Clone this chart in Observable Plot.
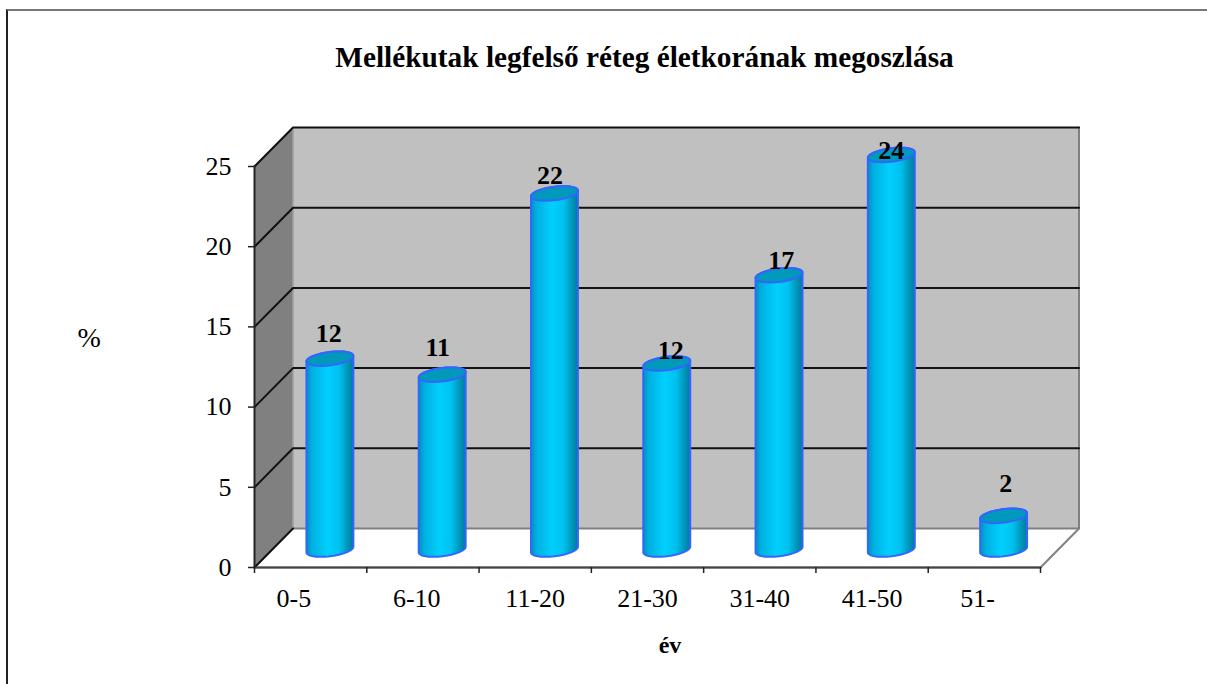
<!DOCTYPE html>
<html><head><meta charset="utf-8">
<script src="https://cdn.jsdelivr.net/npm/d3@7"></script>
<script src="https://cdn.jsdelivr.net/npm/@observablehq/plot@0.6"></script>
<style>
html,body{margin:0;padding:0;background:#fff;overflow:hidden}
#box{position:absolute;left:6px;top:9px;right:0;height:700px;border-top:2px solid #777;border-left:2px solid #222;pointer-events:none}
#chart{position:absolute;left:0;top:0}
svg{background:transparent!important;display:block}
</style></head><body><div id="chart"></div><div id="box"></div>
<script>
const categories = ["0-5","6-10","11-20","21-30","31-40","41-50","51-"];
const categoryShifts = [-0.15,-0.055,0,0,0,0,-0.06];
const heights = [11.9,10.9,22.2,11.6,17.1,24.6,2.1];
const labels = ["12","11","22","12","17","24","2"];
const labelLevels = [14.6,13.7,24.4,13.5,19.1,26.0,5.2];
const labelShifts = [-0.01,-0.04,-0.04,0.035,0.02,0,0.02];
const yTicks = [0,5,10,15,20,25];
const depthX = 0.343, depthY = 2.43;   // wall depth in scale units
const floorLevel = 1.12;               // where the cylinders stand
const serif = "'Liberation Serif','Times New Roman',serif";

const wall = [[depthX,depthY],[7+depthX,depthY],[7+depthX,25+depthY],[depthX,25+depthY]];
const side = [[0,0],[depthX,depthY],[depthX,25+depthY],[0,25]];
const grid = yTicks.map(v => [[0,v],[depthX,v+depthY],[7+depthX,v+depthY]]);

// cylinder outline in scale units: a tilted ellipse at mid-depth
const rx = 0.209, ry = 0.42, tilt = 0.175;
const ring = (i, v, from, to) => d3.range(0,41).map(k => {
  const t = from + (to-from)*k/40;
  const a = Math.cos(t), b = Math.sin(t);
  return [i+0.5+depthX/2 + rx*a, v+floorLevel + ry*b + tilt*a];
});
const bodies = heights.map((v,i) => [...ring(i,0,Math.PI,2*Math.PI), ...ring(i,v,0,Math.PI)]);
const tops = heights.map((v,i) => ring(i,v,0,2*Math.PI));
const rows = (polys) => polys.flatMap((p,z) => p.map(([x,y]) => ({x,y,z})));

const defs = () => {
  const d = d3.create("svg:defs");
  const g = d.append("linearGradient").attr("id","cyl").attr("x1",0).attr("x2",1).attr("y1",0).attr("y2",0);
  [[0,"#0090c0"],[0.12,"#00b0e0"],[0.45,"#00d0ff"],[0.7,"#00c0ee"],[0.9,"#0090b4"],[1,"#007a9c"]]
    .forEach(([o,c]) => g.append("stop").attr("offset",o).attr("stop-color",c));
  return d.node();
};

const plot = Plot.plot({
  width:1207, height:684,
  marginLeft:254, marginRight:167, marginTop:166, marginBottom:117,
  x:{domain:[0,7]}, y:{domain:[0,25]},
  style:{fontFamily:serif, color:"#000", background:"transparent"},
  marks:[
    defs,
    Plot.line(wall,{x:d=>d[0],y:d=>d[1],fill:"#c0c0c0",stroke:"none",curve:"linear-closed"}),
    Plot.line(side,{x:d=>d[0],y:d=>d[1],fill:"#808080",stroke:"none",curve:"linear-closed"}),
    Plot.line([[depthX,depthY],[depthX,25+depthY]],{x:d=>d[0],y:d=>d[1],stroke:"#a0a0a0",strokeWidth:1.5}),
    Plot.line([[0,0],[7,0],[7+depthX,depthY],[7+depthX,25+depthY]],{x:d=>d[0],y:d=>d[1],stroke:"#808080",strokeWidth:2}),
    Plot.line([[depthX,depthY],[7+depthX,depthY]],{x:d=>d[0],y:d=>d[1],stroke:"#808080",strokeWidth:2}),
    Plot.line(rows(grid.slice(1)),{x:"x",y:"y",z:"z",stroke:"#111",strokeWidth:2}),
    Plot.line([[0,0],[depthX,depthY]],{x:d=>d[0],y:d=>d[1],stroke:"#111",strokeWidth:2}),
    Plot.line([[0,0],[7,0]],{x:d=>d[0],y:d=>d[1],stroke:"#444",strokeWidth:2}),
    Plot.line([[0,0],[0,25]],{x:d=>d[0],y:d=>d[1],stroke:"#222",strokeWidth:2}),
    Plot.line(rows(bodies),{x:"x",y:"y",z:"z",fill:"url(#cyl)",stroke:"#3366ff",strokeWidth:2,curve:"linear-closed"}),
    Plot.line(rows(tops),{x:"x",y:"y",z:"z",fill:"#0099bb",stroke:"#3366ff",strokeWidth:2,curve:"linear-closed"}),
    Plot.axisY({ticks:yTicks,tickSize:6,tickPadding:17,fontSize:26,stroke:"#222",strokeWidth:1.5,label:null,fill:"#000"}),
    Plot.axisX({ticks:d3.range(8),tickSize:6,tickFormat:()=>"",stroke:"#222",strokeWidth:1.5,label:null}),
    Plot.text(categories,{x:(d,i)=>i+0.5+categoryShifts[i],y:()=>0,dy:31,text:d=>d,fontSize:26,fill:"#000"}),
    Plot.text(labels,{x:(d,i)=>i+0.5+depthX/2+labelShifts[i],y:(d,i)=>labelLevels[i],text:d=>d,fontSize:26,fontWeight:"bold",fill:"#000"}),
    Plot.text(["Mellékutak legfelső réteg életkorának megoszlása"],{frameAnchor:"top",dx:-3,dy:-120,fontSize:29.3,fontWeight:"bold",fill:"#000"}),
    Plot.text(["%"],{frameAnchor:"left",dx:-177,dy:-29,fontSize:28,fill:"#000"}),
    Plot.text(["év"],{frameAnchor:"bottom",dx:22.5,dy:85,fontSize:24,fontWeight:"bold",fill:"#000"})
  ]
});
document.getElementById("chart").appendChild(plot);
</script></body></html>
